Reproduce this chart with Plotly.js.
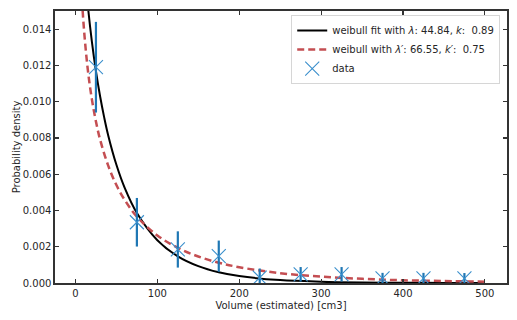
<!DOCTYPE html>
<html>
<head>
<meta charset="utf-8">
<script src="https://cdn.plot.ly/plotly-3.0.1.min.js"></script>
<style>
  html, body { margin: 0; padding: 0; background: #fff; }
  #plot { width: 517px; height: 320px; }
</style>
</head>
<body>
<div id="plot"></div>
<script>
// binned data (bin centres, density, error)
var binCenters = [25, 75, 125, 175, 225, 275, 325, 375, 425, 475];
var density = [0.0119, 0.00335, 0.00185, 0.00148, 0.00030, 0.00048, 0.00048, 0.00026, 0.00026, 0.00025];
var densityErr = [0.0025, 0.00134, 0.00100, 0.00086, 0.00050, 0.00040, 0.00040, 0.00030, 0.00030, 0.00030];

// fitted curves
var fitX = [5, 10, 15, 20, 25, 30, 35, 40, 50, 60, 75, 100, 125, 150, 175, 200, 250, 300, 350, 400, 450, 500];
var fitY = [0.02192, 0.01800, 0.01535, 0.01332, 0.01168, 0.01031, 0.00915, 0.00814, 0.00652, 0.00526, 0.00386, 0.00236, 0.00147,
            0.00093, 0.00059, 0.00038, 0.00016, 0.000071, 0.000031, 0.000014, 0.0000064, 0.0000029];

var altX = [5, 7, 10, 15, 20, 25, 30, 40, 50, 60, 75, 100, 125, 150, 175, 200, 250, 300, 350, 400, 450, 500];
var altY = [0.01865, 0.01645, 0.01422, 0.01179, 0.01014, 0.00891, 0.00792, 0.00647, 0.00540, 0.00459, 0.00366, 0.00262, 0.00194,
            0.00146, 0.00112, 0.00087, 0.00054, 0.00035, 0.00023, 0.00015, 0.00011, 0.000073];

var font = {family: 'DejaVu Sans, sans-serif', size: 10, color: '#262626'};

var traces = [
  {
    x: fitX, y: fitY, type: 'scatter', mode: 'lines',
    line: {color: '#000000', width: 2, shape: 'spline'},
    name: 'weibull fit with <i>λ</i>: 44.84, <i>k</i>:  0.89'
  },
  {
    x: altX, y: altY, type: 'scatter', mode: 'lines',
    line: {color: '#c44e52', width: 2.5, dash: '7px,4px', shape: 'spline'},
    name: 'weibull with <i>λ′</i>: 66.55, <i>k′</i>:  0.75'
  },
  {
    x: binCenters, y: density, type: 'scatter', mode: 'markers',
    marker: {symbol: 'x-thin', size: 14, color: '#1f77b4', line: {color: '#3a8fcc', width: 1.1}},
    error_y: {type: 'data', array: densityErr, visible: true, thickness: 2.2, width: 0, color: '#1f77b4'},
    name: 'data'
  }
];

var axisBase = {
  showline: true, linecolor: '#333333', linewidth: 1.6, mirror: 'ticks',
  ticks: 'inside', ticklen: 4, tickwidth: 1.2, tickcolor: '#333333',
  showgrid: false, zeroline: false, tickfont: font
};

var layout = {
  width: 517, height: 320,
  margin: {l: 55, r: 10, t: 11, b: 37},
  paper_bgcolor: '#ffffff', plot_bgcolor: '#ffffff',
  font: font,
  showlegend: true,
  xaxis: Object.assign({}, axisBase, {
    range: [-25, 527], tickvals: [0, 100, 200, 300, 400, 500],
    title: {text: 'Volume (estimated) [cm3]', font: font, standoff: 4}
  }),
  yaxis: Object.assign({}, axisBase, {
    range: [0, 0.015], tickvals: [0, 0.002, 0.004, 0.006, 0.008, 0.010, 0.012, 0.014],
    tickformat: '.3f',
    title: {text: 'Probability density', font: font, standoff: 0}
  }),
  legend: {
    x: 0.985, y: 0.985, xanchor: 'right', yanchor: 'top',
    bgcolor: 'rgba(255,255,255,0.9)', bordercolor: '#d6d6d6', borderwidth: 1,
    font: font, tracegroupgap: 0
  }
};

Plotly.newPlot('plot', traces, layout, {displayModeBar: false, staticPlot: true});
</script>
</body>
</html>
